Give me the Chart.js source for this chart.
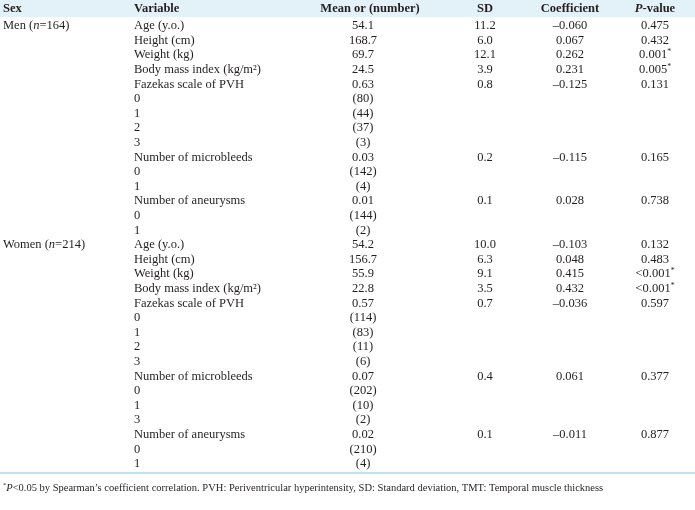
<!DOCTYPE html>
<html><head><meta charset="utf-8">
<script src="https://cdn.jsdelivr.net/npm/chart.js@4/dist/chart.umd.min.js"></script>
<style>html,body{margin:0;padding:0;background:#fff}#wrap{width:695px;height:510px;position:relative}</style>
</head><body><div id="wrap"><canvas id="c"></canvas></div>
<script>
const columns = ['Sex', 'Variable', 'Mean or (number)', 'SD', 'Coefficient', '_P_-value'];
const sexLabels = ['Men (_n_=164)','','','','','','','','','','','','','','',
                   'Women (_n_=214)','','','','','','','','','','','','','','',''];
const variables = ['Age (y.o.)','Height (cm)','Weight (kg)','Body mass index (kg/m²)','Fazekas scale of PVH','0','1','2','3','Number of microbleeds','0','1','Number of aneurysms','0','1',
                   'Age (y.o.)','Height (cm)','Weight (kg)','Body mass index (kg/m²)','Fazekas scale of PVH','0','1','2','3','Number of microbleeds','0','1','3','Number of aneurysms','0','1'];
const means = ['54.1','168.7','69.7','24.5','0.63','(80)','(44)','(37)','(3)','0.03','(142)','(4)','0.01','(144)','(2)',
               '54.2','156.7','55.9','22.8','0.57','(114)','(83)','(11)','(6)','0.07','(202)','(10)','(2)','0.02','(210)','(4)'];
const sds = ['11.2','6.0','12.1','3.9','0.8','','','','','0.2','','','0.1','','',
             '10.0','6.3','9.1','3.5','0.7','','','','','0.4','','','','0.1','',''];
const coefficients = ['–0.060','0.067','0.262','0.231','–0.125','','','','','–0.115','','','0.028','','',
                      '–0.103','0.048','0.415','0.432','–0.036','','','','','0.061','','','','–0.011','',''];
const pValues = ['0.475','0.432','0.001^*^','0.005^*^','0.131','','','','','0.165','','','0.738','','',
                 '0.132','0.483','<0.001^*^','<0.001^*^','0.597','','','','','0.377','','','','0.877','',''];
const footnote = '^*^_P_<0.05 by Spearman\u2019s coefficient correlation. PVH: Periventricular hyperintensity, SD: Standard deviation, TMT: Temporal muscle thickness';

const tableColumns = [sexLabels, variables, means, sds, coefficients, pValues];

// ---- layout / style (not data) ----
const FONT = '"Liberation Serif", "DejaVu Serif", serif';
const SIZE = 12.5;
const TEXT = '#231f20';
const headAnchor = [3, 134, 370, 485, 570, 655];
const colAnchor = [3, 134, 363, 485, 570, 655];
const colAlign = ['left', 'left', 'center', 'center', 'center', 'center'];
const ROW0 = 26, STEP = 14.6;
const headerRowValue = (8.5 - ROW0) / STEP;
const footRowValue = (488 - ROW0) / STEP;
const ruleRowValue = (473 - ROW0) / STEP;

function parseRich(str) {
  const segs = []; let italic = false, sup = false, cur = '';
  for (const ch of str) {
    if (ch === '_' || ch === '^') {
      if (cur) segs.push({t: cur, italic, sup});
      cur = '';
      if (ch === '_') italic = !italic; else sup = !sup;
    } else cur += ch;
  }
  if (cur) segs.push({t: cur, italic, sup});
  return segs;
}
function fontFor(seg, size, bold) {
  const s = seg.sup ? size * 0.62 : size;
  return (seg.italic ? 'italic ' : '') + (bold ? 'bold ' : '') + s + 'px ' + FONT;
}
function drawRich(ctx, str, x, y, align, size, bold) {
  const segs = parseRich(str);
  let total = 0;
  segs.forEach(s => { ctx.font = fontFor(s, size, bold); s.w = ctx.measureText(s.t).width; total += s.w; });
  let cx = align === 'center' ? x - total / 2 : x;
  ctx.textBaseline = 'middle'; ctx.textAlign = 'left'; ctx.fillStyle = TEXT;
  segs.forEach(s => {
    ctx.font = fontFor(s, size, bold);
    ctx.fillText(s.t, cx, s.sup ? y - size * 0.25 : y);
    cx += s.w;
  });
}

const tablePlugin = {
  id: 'tableText',
  beforeDraw(chart) {
    const {ctx, scales: {y}} = chart;
    ctx.save();
    ctx.fillStyle = '#e3f1f8';
    const top = chart.chartArea.top, hb = y.getPixelForValue(headerRowValue) + 8.5;
    ctx.fillRect(0, top, chart.width, hb - top);
    ctx.restore();
  },
  afterDatasetsDraw(chart) {
    const {ctx, scales: {x, y}} = chart;
    ctx.save();
    const hy = y.getPixelForValue(headerRowValue);
    columns.forEach((h, c) => drawRich(ctx, h, x.getPixelForValue(headAnchor[c]), hy, colAlign[c], SIZE, true));
    chart.data.datasets[0].data.forEach(p => {
      drawRich(ctx, p.label, x.getPixelForValue(p.x), y.getPixelForValue(p.y), p.align, SIZE, false);
    });
    const ry = y.getPixelForValue(ruleRowValue);
    ctx.strokeStyle = '#a8dbea'; ctx.lineWidth = 1.5;
    ctx.beginPath(); ctx.moveTo(0, ry); ctx.lineTo(chart.width, ry); ctx.stroke();
    drawRich(ctx, footnote, x.getPixelForValue(3), y.getPixelForValue(footRowValue), 'left', 10.5, false);
    ctx.restore();
  }
};

const cells = [];
tableColumns.forEach((col, c) => col.forEach((txt, r) => {
  if (txt) cells.push({x: colAnchor[c], y: r, label: txt, align: colAlign[c]});
}));

new Chart(document.getElementById('c'), {
  type: 'scatter',
  data: { datasets: [{ data: cells, pointRadius: 0, pointHoverRadius: 0, showLine: false }] },
  options: {
    responsive: true, maintainAspectRatio: false, animation: false,
    layout: { padding: 0 },
    events: [],
    plugins: { legend: { display: false }, tooltip: { enabled: false } },
    scales: {
      x: { type: 'linear', display: false, min: 0, max: 695 },
      y: { type: 'linear', display: false, reverse: true, min: -ROW0 / STEP, max: (510 - ROW0) / STEP }
    }
  },
  plugins: [tablePlugin]
});
</script></body></html>
